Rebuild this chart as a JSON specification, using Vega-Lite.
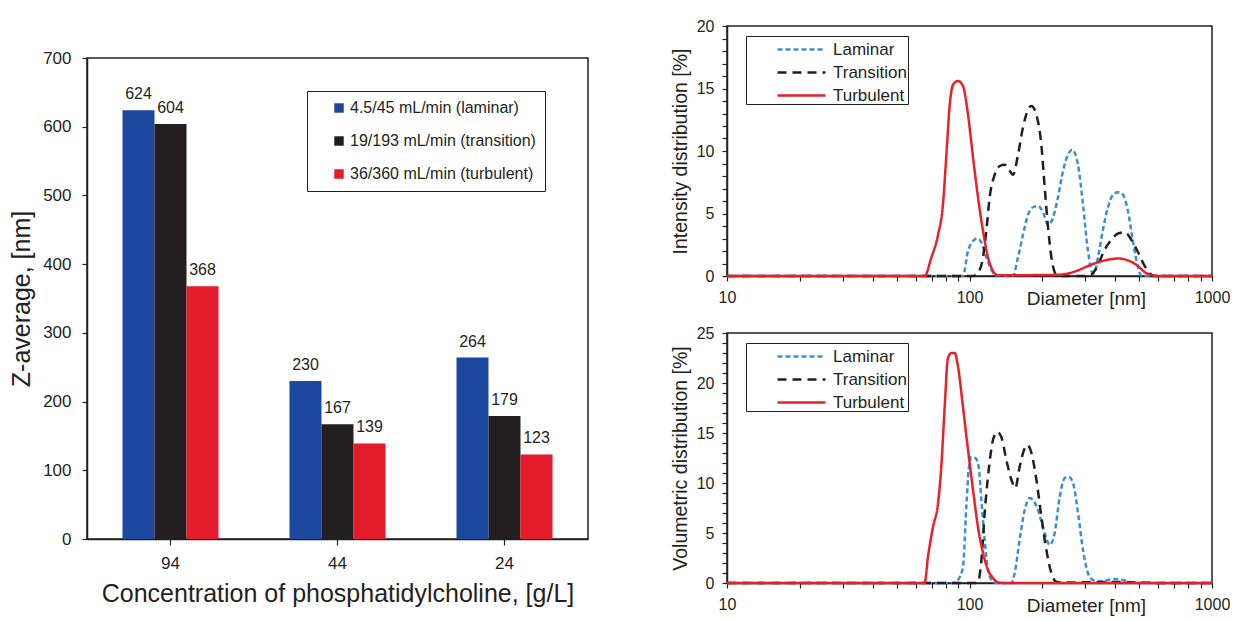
{
  "$schema": "https://vega.github.io/schema/vega-lite/v6.json",
  "padding": {"top": 17, "left": 8, "right": 5, "bottom": 5},
  "background": "white",
  "config": {
    "font": "Liberation Sans",
    "view": {"stroke": "#231f20", "strokeWidth": 1.5},
    "axis": {"grid": false, "domainColor": "#231f20", "tickColor": "#231f20", "labelColor": "#231f20", "titleColor": "#231f20", "titleFontWeight": "normal", "domainWidth": 1.5, "tickWidth": 1.2, "labelFlush": false, "labelOverlap": false},
    "legend": {"titleFontWeight": "normal", "labelLimit": 400}
  },
  "datasets": {
    "bars": [
      {"conc": "94", "series": "4.5/45 mL/min (laminar)", "z": 624},
      {"conc": "94", "series": "19/193 mL/min (transition)", "z": 604},
      {"conc": "94", "series": "36/360 mL/min (turbulent)", "z": 368},
      {"conc": "44", "series": "4.5/45 mL/min (laminar)", "z": 230},
      {"conc": "44", "series": "19/193 mL/min (transition)", "z": 167},
      {"conc": "44", "series": "36/360 mL/min (turbulent)", "z": 139},
      {"conc": "24", "series": "4.5/45 mL/min (laminar)", "z": 264},
      {"conc": "24", "series": "19/193 mL/min (transition)", "z": 179},
      {"conc": "24", "series": "36/360 mL/min (turbulent)", "z": 123}
    ],
    "intensity": [
      {"s": "Laminar", "d": 10, "v": 0}, {"s": "Laminar", "d": 50, "v": 0}, {"s": "Laminar", "d": 90, "v": 0}, {"s": "Laminar", "d": 94, "v": 0},
      {"s": "Laminar", "d": 98.6, "v": 2.0}, {"s": "Laminar", "d": 103.4, "v": 2.8}, {"s": "Laminar", "d": 107.4, "v": 3.0}, {"s": "Laminar", "d": 111.8, "v": 2.7},
      {"s": "Laminar", "d": 117.3, "v": 1.5}, {"s": "Laminar", "d": 125, "v": 0.27}, {"s": "Laminar", "d": 131, "v": 0}, {"s": "Laminar", "d": 151, "v": 0},
      {"s": "Laminar", "d": 158.5, "v": 1.5}, {"s": "Laminar", "d": 166.2, "v": 3.3}, {"s": "Laminar", "d": 174.3, "v": 4.9}, {"s": "Laminar", "d": 182.8, "v": 5.5},
      {"s": "Laminar", "d": 191.7, "v": 5.6}, {"s": "Laminar", "d": 201, "v": 5.1}, {"s": "Laminar", "d": 210.8, "v": 4.1}, {"s": "Laminar", "d": 217, "v": 4.3},
      {"s": "Laminar", "d": 231.7, "v": 6.3}, {"s": "Laminar", "d": 243, "v": 8.4}, {"s": "Laminar", "d": 254.8, "v": 9.7}, {"s": "Laminar", "d": 265, "v": 10.1},
      {"s": "Laminar", "d": 280.2, "v": 8.9}, {"s": "Laminar", "d": 293.8, "v": 5.7}, {"s": "Laminar", "d": 308.1, "v": 2.0}, {"s": "Laminar", "d": 323, "v": 0.2},
      {"s": "Laminar", "d": 331, "v": 0.5}, {"s": "Laminar", "d": 338.8, "v": 1.5}, {"s": "Laminar", "d": 355, "v": 3.7}, {"s": "Laminar", "d": 372.5, "v": 5.5},
      {"s": "Laminar", "d": 390.7, "v": 6.5}, {"s": "Laminar", "d": 409.7, "v": 6.7}, {"s": "Laminar", "d": 429.5, "v": 6.5}, {"s": "Laminar", "d": 450, "v": 5.2},
      {"s": "Laminar", "d": 472, "v": 2.8}, {"s": "Laminar", "d": 495, "v": 0.7}, {"s": "Laminar", "d": 514, "v": 0}, {"s": "Laminar", "d": 1000, "v": 0},
      {"s": "Transition", "d": 10, "v": 0}, {"s": "Transition", "d": 100, "v": 0}, {"s": "Transition", "d": 103.4, "v": 0}, {"s": "Transition", "d": 108.4, "v": 0.27},
      {"s": "Transition", "d": 113.7, "v": 1.5}, {"s": "Transition", "d": 117.3, "v": 3.6}, {"s": "Transition", "d": 121.1, "v": 6.3}, {"s": "Transition", "d": 127, "v": 8.1},
      {"s": "Transition", "d": 133.2, "v": 8.8}, {"s": "Transition", "d": 139.6, "v": 8.9}, {"s": "Transition", "d": 145.5, "v": 8.5}, {"s": "Transition", "d": 151.2, "v": 8.1},
      {"s": "Transition", "d": 158.5, "v": 9.7}, {"s": "Transition", "d": 166.2, "v": 11.9}, {"s": "Transition", "d": 174.3, "v": 13.3}, {"s": "Transition", "d": 179.9, "v": 13.6},
      {"s": "Transition", "d": 188.7, "v": 12.9}, {"s": "Transition", "d": 197.8, "v": 10.5}, {"s": "Transition", "d": 204.2, "v": 7.1}, {"s": "Transition", "d": 210.8, "v": 3.9},
      {"s": "Transition", "d": 217.6, "v": 1.5}, {"s": "Transition", "d": 228.1, "v": 0.1}, {"s": "Transition", "d": 238, "v": 0}, {"s": "Transition", "d": 300, "v": 0},
      {"s": "Transition", "d": 318, "v": 0.1}, {"s": "Transition", "d": 338.8, "v": 0.9}, {"s": "Transition", "d": 360.9, "v": 2.1}, {"s": "Transition", "d": 384.6, "v": 2.9},
      {"s": "Transition", "d": 409.7, "v": 3.4}, {"s": "Transition", "d": 436.4, "v": 3.5}, {"s": "Transition", "d": 464.9, "v": 2.9}, {"s": "Transition", "d": 495.3, "v": 1.9},
      {"s": "Transition", "d": 527.7, "v": 0.8}, {"s": "Transition", "d": 553.4, "v": 0.2}, {"s": "Transition", "d": 580, "v": 0}, {"s": "Transition", "d": 1000, "v": 0},
      {"s": "Turbulent", "d": 10, "v": 0}, {"s": "Turbulent", "d": 60, "v": 0}, {"s": "Turbulent", "d": 65.3, "v": 0}, {"s": "Turbulent", "d": 69.6, "v": 1.47},
      {"s": "Turbulent", "d": 74.2, "v": 3.3}, {"s": "Turbulent", "d": 77.7, "v": 5.7}, {"s": "Turbulent", "d": 80.3, "v": 9.7}, {"s": "Turbulent", "d": 82.9, "v": 13.7},
      {"s": "Turbulent", "d": 85.5, "v": 15.3}, {"s": "Turbulent", "d": 89.7, "v": 15.6}, {"s": "Turbulent", "d": 94, "v": 15.2}, {"s": "Turbulent", "d": 98.6, "v": 12.9},
      {"s": "Turbulent", "d": 103.4, "v": 9.5}, {"s": "Turbulent", "d": 108.4, "v": 6.3}, {"s": "Turbulent", "d": 113.7, "v": 3.6}, {"s": "Turbulent", "d": 119.2, "v": 1.5},
      {"s": "Turbulent", "d": 125, "v": 0.4}, {"s": "Turbulent", "d": 131, "v": 0.05}, {"s": "Turbulent", "d": 200, "v": 0.08}, {"s": "Turbulent", "d": 232, "v": 0.1},
      {"s": "Turbulent", "d": 255, "v": 0.2}, {"s": "Turbulent", "d": 280, "v": 0.45}, {"s": "Turbulent", "d": 308, "v": 0.8}, {"s": "Turbulent", "d": 339, "v": 1.1},
      {"s": "Turbulent", "d": 372, "v": 1.3}, {"s": "Turbulent", "d": 410, "v": 1.4}, {"s": "Turbulent", "d": 450, "v": 1.25}, {"s": "Turbulent", "d": 495, "v": 0.8},
      {"s": "Turbulent", "d": 528, "v": 0.3}, {"s": "Turbulent", "d": 571, "v": 0.05}, {"s": "Turbulent", "d": 600, "v": 0}, {"s": "Turbulent", "d": 1000, "v": 0}
    ],
    "volume": [
      {"s": "Laminar", "d": 10, "v": 0}, {"s": "Laminar", "d": 50, "v": 0}, {"s": "Laminar", "d": 86.9, "v": 0}, {"s": "Laminar", "d": 89.7, "v": 0.3},
      {"s": "Laminar", "d": 94, "v": 1.6}, {"s": "Laminar", "d": 97, "v": 7.6}, {"s": "Laminar", "d": 99.2, "v": 11.3}, {"s": "Laminar", "d": 101.8, "v": 12.6},
      {"s": "Laminar", "d": 105.7, "v": 12.5}, {"s": "Laminar", "d": 109.1, "v": 11.6}, {"s": "Laminar", "d": 111.9, "v": 8.3}, {"s": "Laminar", "d": 115.5, "v": 4.3},
      {"s": "Laminar", "d": 119.2, "v": 1.3}, {"s": "Laminar", "d": 125, "v": 0.13}, {"s": "Laminar", "d": 130, "v": 0}, {"s": "Laminar", "d": 149, "v": 0},
      {"s": "Laminar", "d": 153.5, "v": 0.97}, {"s": "Laminar", "d": 160.9, "v": 4.3}, {"s": "Laminar", "d": 168.9, "v": 7.3}, {"s": "Laminar", "d": 177.1, "v": 8.5},
      {"s": "Laminar", "d": 182.8, "v": 8.3}, {"s": "Laminar", "d": 191.7, "v": 7.3}, {"s": "Laminar", "d": 204.1, "v": 5.0}, {"s": "Laminar", "d": 214.3, "v": 3.8},
      {"s": "Laminar", "d": 224.5, "v": 5.0}, {"s": "Laminar", "d": 235.5, "v": 8.6}, {"s": "Laminar", "d": 247, "v": 10.5}, {"s": "Laminar", "d": 256.9, "v": 10.6},
      {"s": "Laminar", "d": 267.2, "v": 10.0}, {"s": "Laminar", "d": 280.2, "v": 7.0}, {"s": "Laminar", "d": 293.8, "v": 3.3}, {"s": "Laminar", "d": 308.1, "v": 0.97},
      {"s": "Laminar", "d": 323, "v": 0.3}, {"s": "Laminar", "d": 339, "v": 0.17}, {"s": "Laminar", "d": 372.5, "v": 0.3}, {"s": "Laminar", "d": 397, "v": 0.4},
      {"s": "Laminar", "d": 429.5, "v": 0.3}, {"s": "Laminar", "d": 465, "v": 0.07}, {"s": "Laminar", "d": 500, "v": 0}, {"s": "Laminar", "d": 1000, "v": 0},
      {"s": "Transition", "d": 10, "v": 0}, {"s": "Transition", "d": 100, "v": 0}, {"s": "Transition", "d": 105, "v": 0}, {"s": "Transition", "d": 108.4, "v": 0.13},
      {"s": "Transition", "d": 112, "v": 2.3}, {"s": "Transition", "d": 115.5, "v": 7.0}, {"s": "Transition", "d": 120, "v": 11.3}, {"s": "Transition", "d": 125, "v": 14.3},
      {"s": "Transition", "d": 130.3, "v": 15.1}, {"s": "Transition", "d": 135.3, "v": 14.6}, {"s": "Transition", "d": 141.9, "v": 12.3}, {"s": "Transition", "d": 149, "v": 10.3},
      {"s": "Transition", "d": 154.5, "v": 9.5}, {"s": "Transition", "d": 160.9, "v": 11.6}, {"s": "Transition", "d": 167.8, "v": 13.3}, {"s": "Transition", "d": 173.2, "v": 13.8},
      {"s": "Transition", "d": 180, "v": 13.0}, {"s": "Transition", "d": 188.8, "v": 10.3}, {"s": "Transition", "d": 198, "v": 6.6}, {"s": "Transition", "d": 207.5, "v": 3.3},
      {"s": "Transition", "d": 217.5, "v": 1.0}, {"s": "Transition", "d": 228, "v": 0.13}, {"s": "Transition", "d": 240, "v": 0.05}, {"s": "Transition", "d": 400, "v": 0.1},
      {"s": "Transition", "d": 500, "v": 0.05}, {"s": "Transition", "d": 600, "v": 0}, {"s": "Transition", "d": 1000, "v": 0},
      {"s": "Turbulent", "d": 10, "v": 0}, {"s": "Turbulent", "d": 60, "v": 0}, {"s": "Turbulent", "d": 65.3, "v": 0}, {"s": "Turbulent", "d": 67.4, "v": 2.6},
      {"s": "Turbulent", "d": 70.7, "v": 5.6}, {"s": "Turbulent", "d": 74.2, "v": 8.0}, {"s": "Turbulent", "d": 76.5, "v": 11.6}, {"s": "Turbulent", "d": 79, "v": 17.6},
      {"s": "Turbulent", "d": 81.5, "v": 22.5}, {"s": "Turbulent", "d": 84.2, "v": 23.0}, {"s": "Turbulent", "d": 86.9, "v": 23.0}, {"s": "Turbulent", "d": 89.7, "v": 21.6},
      {"s": "Turbulent", "d": 94, "v": 17.6}, {"s": "Turbulent", "d": 98.6, "v": 13.3}, {"s": "Turbulent", "d": 103.4, "v": 9.3}, {"s": "Turbulent", "d": 108.4, "v": 5.6},
      {"s": "Turbulent", "d": 113.7, "v": 3.0}, {"s": "Turbulent", "d": 119.2, "v": 1.3}, {"s": "Turbulent", "d": 125, "v": 0.5}, {"s": "Turbulent", "d": 131, "v": 0.07},
      {"s": "Turbulent", "d": 140, "v": 0}, {"s": "Turbulent", "d": 1000, "v": 0}
    ]
  },
  "spacing": 80,
  "hconcat": [
    {
      "spacing": 0,
      "vconcat": [
        {
          "width": 501,
          "height": 22,
          "data": {"values": []},
          "mark": {"type": "point", "opacity": 0},
          "view": {"stroke": null}
        },
        {
          "width": 501,
          "height": 481,
          "data": {"name": "bars"},
          "encoding": {
            "x": {"field": "conc", "type": "nominal", "sort": ["94", "44", "24"],
              "scale": {"paddingInner": 0.425, "paddingOuter": 0.2125},
              "axis": {"title": "Concentration of phosphatidylcholine, [g/L]", "labelAngle": 0, "labelFontSize": 17, "titleFontSize": 25, "tickSize": 6, "labelPadding": 10, "titlePadding": 10}},
            "xOffset": {"field": "series", "type": "nominal", "sort": ["4.5/45 mL/min (laminar)", "19/193 mL/min (transition)", "36/360 mL/min (turbulent)"]},
            "y": {"field": "z", "type": "quantitative", "scale": {"domain": [0, 700]},
              "axis": {"title": "Z-average, [nm]", "values": [0, 100, 200, 300, 400, 500, 600, 700], "labelFontSize": 17, "titleFontSize": 25, "tickSize": 5, "labelPadding": 11, "titlePadding": 8}}
          },
          "layer": [
            {
              "mark": {"type": "bar"},
              "encoding": {
                "color": {"field": "series", "type": "nominal",
                  "scale": {"domain": ["4.5/45 mL/min (laminar)", "19/193 mL/min (transition)", "36/360 mL/min (turbulent)"], "range": ["#1b479c", "#231f20", "#e31b2a"]},
                  "legend": {"orient": "none", "legendX": 220, "legendY": 65, "title": null, "strokeColor": "#231f20", "fillColor": "white", "padding": 9, "symbolType": "square", "symbolSize": 90, "symbolStrokeWidth": 0, "labelFontSize": 16, "labelColor": "#231f20", "rowPadding": 17, "symbolOffset": 15, "labelOffset": 3}}
              }
            },
            {
              "mark": {"type": "text", "baseline": "bottom", "dy": -8, "fontSize": 16, "color": "#231f20"},
              "encoding": {"text": {"field": "z", "type": "quantitative"}}
            }
          ]
        }
      ]
    },
    {
      "spacing": 15,
      "vconcat": [
        {
          "width": 485,
          "height": 250,
          "data": {"name": "intensity"},
          "mark": {"type": "line", "interpolate": "monotone", "strokeWidth": 2.5},
          "encoding": {
            "x": {"field": "d", "type": "quantitative", "scale": {"type": "log", "domain": [10, 1000]},
              "axis": {"title": "Diameter [nm]", "values": [10, 20, 30, 40, 50, 60, 70, 80, 90, 100, 200, 300, 400, 500, 600, 700, 800, 900, 1000], "format": "d", "labelExpr": "datum.value === 10 || datum.value === 100 || datum.value === 1000 ? datum.label : ''", "labelFontSize": 16, "titleFontSize": 19, "tickSize": 5, "labelPadding": 8, "titleX": 359, "titleY": 22, "titleAnchor": null, "titleAlign": "center", "titleBaseline": "middle"}},
            "y": {"field": "v", "type": "quantitative", "scale": {"domain": [0, 20]},
              "axis": {"title": "Intensity distribution [%]", "values": [0, 1, 2, 3, 4, 5, 6, 7, 8, 9, 10, 11, 12, 13, 14, 15, 16, 17, 18, 19, 20], "labelExpr": "datum.value % 5 === 0 ? datum.label : ''", "labelFontSize": 16, "titleFontSize": 19.5, "tickSize": 5, "labelPadding": 8, "titlePadding": 6}},
            "color": {"field": "s", "type": "nominal",
              "scale": {"domain": ["Laminar", "Transition", "Turbulent"], "range": ["#3a8fd2", "#231f20", "#e8202a"]},
              "legend": {"orient": "none", "legendX": 19, "legendY": 10, "title": null, "strokeColor": "#231f20", "fillColor": "white", "padding": 0, "symbolType": "M-2,0H2", "symbolSize": 576, "symbolStrokeWidth": 2.5, "labelFontSize": 17, "labelColor": "#231f20", "rowPadding": 1, "symbolOffset": 42, "labelOffset": 18}},
            "strokeDash": {"field": "s", "type": "nominal",
              "scale": {"domain": ["Laminar", "Transition", "Turbulent"], "range": [[5, 3], [9, 6], [1, 0]]},
              "legend": {"orient": "none", "legendX": 19, "legendY": 10, "title": null, "strokeColor": "#231f20", "fillColor": "white", "padding": 0, "symbolType": "M-2,0H2", "symbolSize": 576, "symbolStrokeWidth": 2.5, "labelFontSize": 17, "labelColor": "#231f20", "rowPadding": 1, "symbolOffset": 42, "labelOffset": 18}}
          }
        },
        {
          "width": 485,
          "height": 250,
          "data": {"name": "volume"},
          "mark": {"type": "line", "interpolate": "monotone", "strokeWidth": 2.5},
          "encoding": {
            "x": {"field": "d", "type": "quantitative", "scale": {"type": "log", "domain": [10, 1000]},
              "axis": {"title": "Diameter [nm]", "values": [10, 20, 30, 40, 50, 60, 70, 80, 90, 100, 200, 300, 400, 500, 600, 700, 800, 900, 1000], "format": "d", "labelExpr": "datum.value === 10 || datum.value === 100 || datum.value === 1000 ? datum.label : ''", "labelFontSize": 16, "titleFontSize": 19, "tickSize": 5, "labelPadding": 8, "titleX": 359, "titleY": 22, "titleAnchor": null, "titleAlign": "center", "titleBaseline": "middle"}},
            "y": {"field": "v", "type": "quantitative", "scale": {"domain": [0, 25]},
              "axis": {"title": "Volumetric distribution [%]", "values": [0, 1, 2, 3, 4, 5, 6, 7, 8, 9, 10, 11, 12, 13, 14, 15, 16, 17, 18, 19, 20, 21, 22, 23, 24, 25], "labelExpr": "datum.value % 5 === 0 ? datum.label : ''", "labelFontSize": 16, "titleFontSize": 19.5, "tickSize": 5, "labelPadding": 8, "titlePadding": 6}},
            "color": {"field": "s", "type": "nominal",
              "scale": {"domain": ["Laminar", "Transition", "Turbulent"], "range": ["#3a8fd2", "#231f20", "#e8202a"]},
              "legend": {"orient": "none", "legendX": 19, "legendY": 10, "title": null, "strokeColor": "#231f20", "fillColor": "white", "padding": 0, "symbolType": "M-2,0H2", "symbolSize": 576, "symbolStrokeWidth": 2.5, "labelFontSize": 17, "labelColor": "#231f20", "rowPadding": 1, "symbolOffset": 42, "labelOffset": 18}},
            "strokeDash": {"field": "s", "type": "nominal",
              "scale": {"domain": ["Laminar", "Transition", "Turbulent"], "range": [[5, 3], [9, 6], [1, 0]]},
              "legend": {"orient": "none", "legendX": 19, "legendY": 10, "title": null, "strokeColor": "#231f20", "fillColor": "white", "padding": 0, "symbolType": "M-2,0H2", "symbolSize": 576, "symbolStrokeWidth": 2.5, "labelFontSize": 17, "labelColor": "#231f20", "rowPadding": 1, "symbolOffset": 42, "labelOffset": 18}}
          }
        }
      ],
      "resolve": {"scale": {"color": "independent", "strokeDash": "independent"}, "legend": {"color": "independent", "strokeDash": "independent"}}
    }
  ],
  "resolve": {"scale": {"color": "independent", "strokeDash": "independent"}, "legend": {"color": "independent", "strokeDash": "independent"}}
}
